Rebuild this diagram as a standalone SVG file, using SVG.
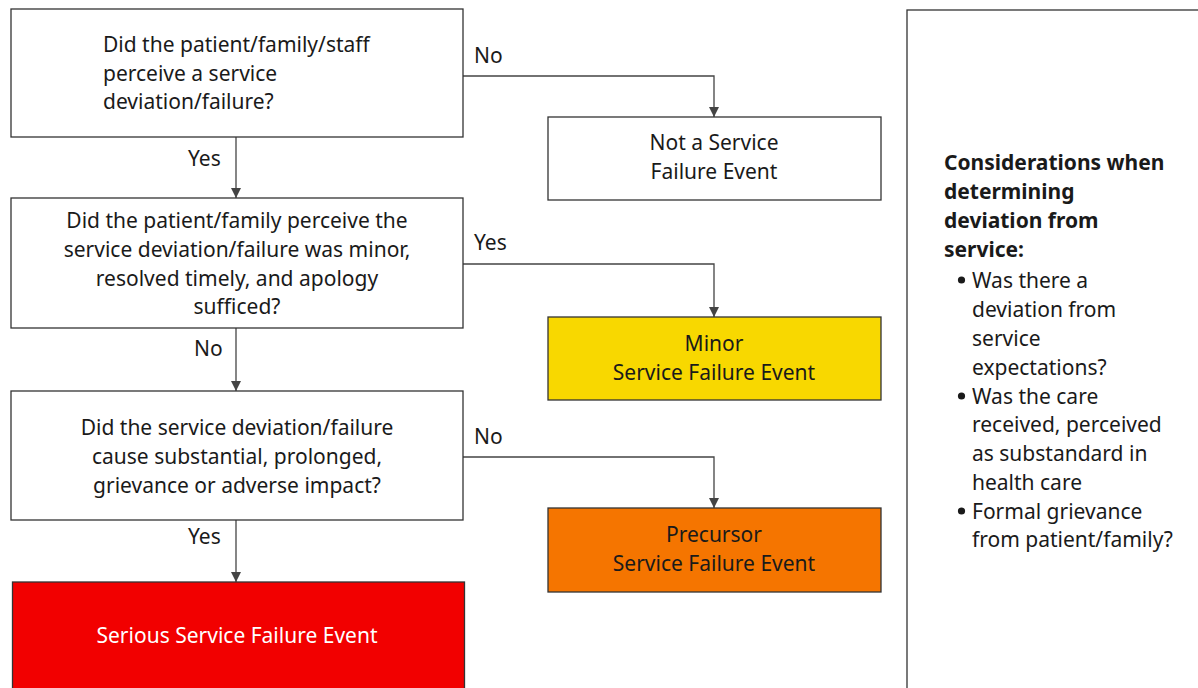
<svg xmlns="http://www.w3.org/2000/svg" width="1198" height="688" viewBox="0 0 1198 688">
<style>
.box{fill:#fff;stroke:#333;stroke-width:1.3}
.t{font-family:"Noto Sans","Liberation Sans",sans-serif;font-size:21px;fill:#1a1a1a}
.c{text-anchor:middle}
.b{font-weight:bold}
.w{fill:#fff}
.ln{fill:none;stroke:#444;stroke-width:1.3}
</style>
<defs>
<marker id="ah" viewBox="0 0 10 10" refX="10" refY="5" markerWidth="10" markerHeight="11" markerUnits="userSpaceOnUse" orient="auto">
<path d="M0,0 L10,5 L0,10 z" fill="#444"/>
</marker>
</defs>
<g id="connectors">
<path class="ln" d="M463,76 H714 V117" marker-end="url(#ah)"/>
<path class="ln" d="M236,137 V198" marker-end="url(#ah)"/>
<path class="ln" d="M463,264 H714 V317" marker-end="url(#ah)"/>
<path class="ln" d="M236,328 V391" marker-end="url(#ah)"/>
<path class="ln" d="M463,457 H714 V508" marker-end="url(#ah)"/>
<path class="ln" d="M236,520 V582" marker-end="url(#ah)"/>
<text class="t" x="474" y="63">No</text>
<text class="t" x="188" y="166">Yes</text>
<text class="t" x="474" y="250">Yes</text>
<text class="t" x="194" y="356">No</text>
<text class="t" x="474" y="444">No</text>
<text class="t" x="188" y="544">Yes</text>
</g>
<g id="q1">
<rect class="box" x="11" y="9" width="452" height="128"/>
<text class="t" x="103" y="52">Did the patient/family/staff</text>
<text class="t" x="103" y="81">perceive a service</text>
<text class="t" x="103" y="109">deviation/failure?</text>
</g>
<g id="q2">
<rect class="box" x="11" y="198" width="452" height="130"/>
<text class="t c" x="237" y="228">Did the patient/family perceive the</text>
<text class="t c" x="237" y="257">service deviation/failure was minor,</text>
<text class="t c" x="237" y="286">resolved timely, and apology</text>
<text class="t c" x="237" y="314">sufficed?</text>
</g>
<g id="q3">
<rect class="box" x="11" y="391" width="452" height="129"/>
<text class="t c" x="237" y="435">Did the service deviation/failure</text>
<text class="t c" x="237" y="464">cause substantial, prolonged,</text>
<text class="t c" x="237" y="493">grievance or adverse impact?</text>
</g>
<g id="serious">
<rect x="12.5" y="582" width="452" height="120" fill="#F20000" stroke="#333" stroke-width="1.3"/>
<text class="t c w" x="237" y="643">Serious Service Failure Event</text>
</g>
<g id="notevent">
<rect class="box" x="548" y="117" width="333" height="83"/>
<text class="t c" x="714" y="150">Not a Service</text>
<text class="t c" x="714" y="179">Failure Event</text>
</g>
<g id="minor">
<rect x="548" y="317" width="333" height="83" fill="#F8D800" stroke="#333" stroke-width="1.3"/>
<text class="t c" x="714" y="351">Minor</text>
<text class="t c" x="714" y="380">Service Failure Event</text>
</g>
<g id="precursor">
<rect x="548" y="508" width="333" height="84" fill="#F57500" stroke="#333" stroke-width="1.3"/>
<text class="t c" x="714" y="542">Precursor</text>
<text class="t c" x="714" y="571">Service Failure Event</text>
</g>
<g id="considerations">
<rect class="box" x="907" y="10" width="300" height="700"/>
<text class="t b" x="944" y="170">Considerations when</text>
<text class="t b" x="944" y="199">determining</text>
<text class="t b" x="944" y="228">deviation from</text>
<text class="t b" x="944" y="257">service:</text>
<circle cx="961.5" cy="280" r="3.6" fill="#1a1a1a"/>
<text class="t" x="972" y="288">Was there a</text>
<text class="t" x="972" y="317">deviation from</text>
<text class="t" x="972" y="346">service</text>
<text class="t" x="972" y="375">expectations?</text>
<circle cx="961.5" cy="396" r="3.6" fill="#1a1a1a"/>
<text class="t" x="972" y="404">Was the care</text>
<text class="t" x="972" y="432">received, perceived</text>
<text class="t" x="972" y="461">as substandard in</text>
<text class="t" x="972" y="490">health care</text>
<circle cx="961.5" cy="511" r="3.6" fill="#1a1a1a"/>
<text class="t" x="972" y="519">Formal grievance</text>
<text class="t" x="972" y="547">from patient/family?</text>
</g>
</svg>
